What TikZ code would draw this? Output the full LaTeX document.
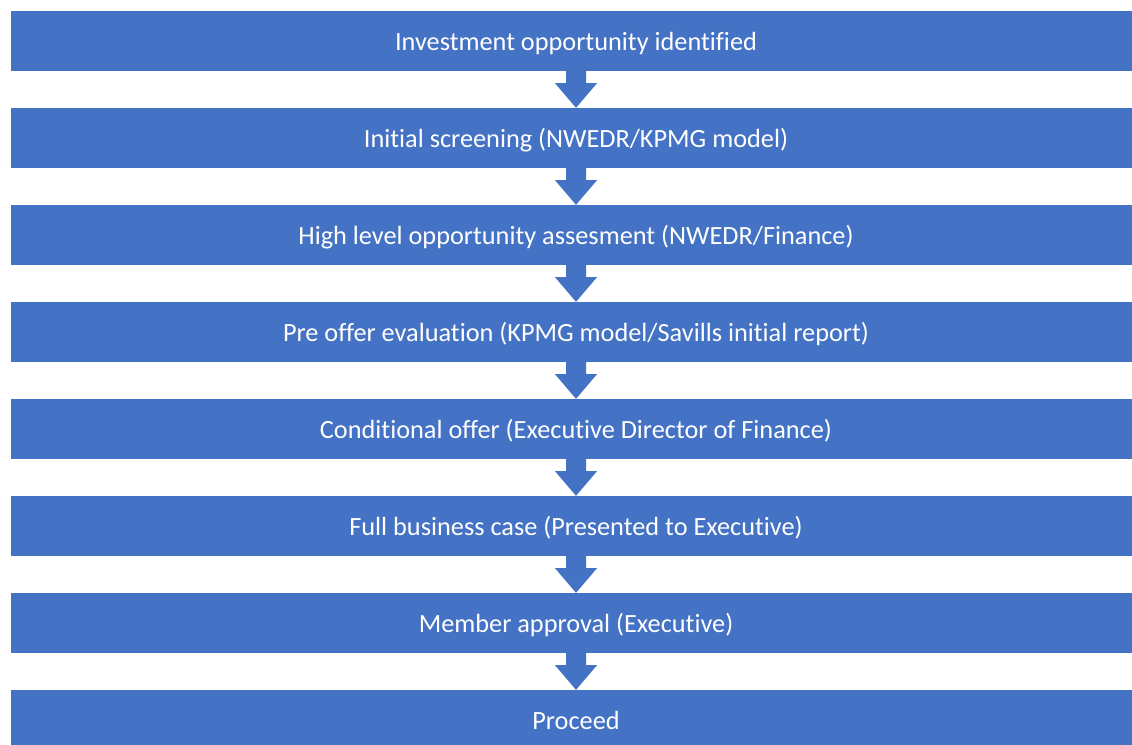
\documentclass[tikz,border=0pt]{standalone}
\usepackage{fontspec}
\setmainfont{Carlito}[Ligatures=NoCommon]
\usetikzlibrary{calc}
\definecolor{officeblue}{HTML}{4472C4}
\tikzset{
  stepbox/.style={fill=officeblue, draw=none, minimum width=1130pt, minimum height=60pt,
    inner sep=0pt, text=white, font=\fontsize{26.3}{30}\selectfont, anchor=center,
    text height=22pt, text depth=4pt},
  flowarrowstyle/.style={fill=officeblue, draw=none}
}
\newcommand{\flowarr}[2]{%
  \fill[flowarrowstyle] ($(#1.south)+(-10,0)$) -- ($(#1.south)+(-10,12)$) -- ($(#1.south)+(-21,12)$)
    -- (#2.north) -- ($(#1.south)+(21,12)$) -- ($(#1.south)+(10,12)$) -- ($(#1.south)+(10,0)$) -- cycle;}
\begin{document}
\begin{tikzpicture}[x=1pt,y=-1pt]
\clip (0,0) rectangle (1132,744);
\fill[white] (0,0) rectangle (1132,744);
\node[stepbox] (b1) at (576,41) {Investment opportunity identified};
\node[stepbox] (b2) at (576,138) {Initial screening (NWEDR/KPMG model)};
\node[stepbox] (b3) at (576,235) {High level opportunity assesment (NWEDR/Finance)};
\node[stepbox] (b4) at (576,332) {Pre offer evaluation (KPMG model/Savills initial report)};
\node[stepbox] (b5) at (576,429) {Conditional offer (Executive Director of Finance)};
\node[stepbox] (b6) at (576,526) {Full business case (Presented to Executive)};
\node[stepbox] (b7) at (576,623) {Member approval (Executive)};
\node[stepbox] (b8) at (576,720) {Proceed};
\flowarr{b1}{b2}
\flowarr{b2}{b3}
\flowarr{b3}{b4}
\flowarr{b4}{b5}
\flowarr{b5}{b6}
\flowarr{b6}{b7}
\flowarr{b7}{b8}
\end{tikzpicture}
\end{document}
